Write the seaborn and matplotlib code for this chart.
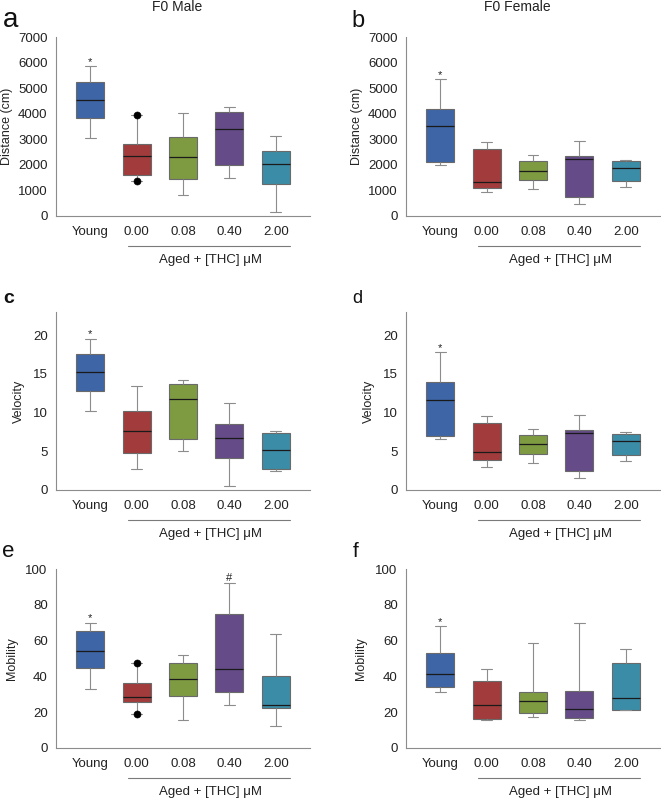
import matplotlib
matplotlib.use("Agg")
import matplotlib.pyplot as plt
import pandas as pd
import seaborn as sns

groups = ["Young", "0.00", "0.08", "0.40", "2.00"]
colors = ["#3e65a6", "#a23c3c", "#7e9b42", "#654b88", "#3b8ca7"]

# per group: [low whisker, Q1, median, Q3, high whisker]
dist_male = [[3064, 3833, 4550, 5254, 5854],
             [1382, 1617, 2360, 2803, 3963],
             [834, 1447, 2321, 3077, 4042],
             [1499, 1995, 3416, 4068, 4263],
             [156, 1239, 2047, 2542, 3142]]
dist_female = [[2008, 2112, 3507, 4198, 5346],
               [926, 1095, 1343, 2608, 2894],
               [1069, 1395, 1773, 2151, 2399],
               [482, 743, 2243, 2360, 2947],
               [1134, 1382, 1890, 2138, 2203]]
vel_male = [[10.17, 12.79, 15.19, 17.51, 19.53],
            [2.75, 4.76, 7.68, 10.26, 13.43],
            [4.98, 6.65, 11.80, 13.73, 14.21],
            [0.56, 4.12, 6.78, 8.54, 11.29],
            [2.45, 2.70, 5.11, 7.42, 7.64]]
vel_female = [[6.65, 7.00, 11.67, 13.95, 17.77],
              [3.00, 3.82, 4.89, 8.63, 9.61],
              [3.52, 4.64, 5.88, 7.08, 7.94],
              [1.59, 2.40, 7.38, 7.77, 9.74],
              [3.69, 4.51, 6.27, 7.30, 7.51]]
mob_male = [[33.0, 44.8, 54.3, 65.4, 70.0],
            [18.9, 25.8, 28.7, 36.3, 47.4],
            [15.4, 29.0, 38.6, 47.6, 52.2],
            [24.0, 31.3, 44.2, 75.1, 91.9],
            [12.2, 22.1, 24.0, 40.3, 63.9]]
mob_female = [[31.4, 34.0, 41.5, 53.1, 67.9],
              [15.7, 16.3, 24.3, 37.6, 44.3],
              [17.4, 19.8, 26.4, 31.4, 58.9],
              [15.9, 16.6, 21.9, 32.1, 70.1],
              [21.1, 21.5, 28.0, 47.5, 55.5]]

sns.set_style("white")
plt.rcParams["font.family"] = ["Liberation Sans", "DejaVu Sans"]

W, H = 661, 799
fig = plt.figure(figsize=(W / 100, H / 100), dpi=100)


def add_ax(left, top, bottom):
    return fig.add_axes([left / W, 1 - bottom / H, 254 / W, (bottom - top) / H])


def panel(ax, boxes, ymax, step, ylabel, ylab_x, marks, dots=False):
    rows = [(g, v) for g, vals in zip(groups, boxes) for v in vals]
    df = pd.DataFrame(rows, columns=["group", "value"])
    sns.boxplot(data=df, x="group", y="value", hue="group", order=groups,
                hue_order=groups, palette=colors, saturation=1, whis=(0, 100),
                width=0.6, linewidth=0.8, linecolor="#6a6a6a", legend=False,
                ax=ax, medianprops=dict(color="#1a1a1a", linewidth=0.9),
                whiskerprops=dict(color="#8c8c8c"), capprops=dict(color="#8c8c8c"),
                capwidths=0.23)
    if dots:
        vals = boxes[1]
        sns.scatterplot(x=[1, 1], y=[vals[0], vals[-1]], color="black", s=26,
                        edgecolor="black", ax=ax, zorder=5, legend=False)
    for i, sym, off in marks:
        ax.annotate(sym, xy=(i, boxes[i][-1]), xytext=(0, off),
                    textcoords="offset points", ha="center", va="baseline",
                    fontsize=8, color="#222222")
    ax.set_xlim(-0.74, 4.74)
    ax.set_ylim(0, ymax)
    ax.set_yticks(range(0, int(ymax) + 1, step) if ymax % step == 0
                  else range(0, int(ymax), step))
    ax.set_xlabel("")
    ax.set_ylabel(ylabel, fontsize=9, color="#222222")
    ax.yaxis.set_label_coords(ylab_x, 0.5)
    for s in ["top", "right"]:
        ax.spines[s].set_visible(False)
    for s in ["left", "bottom"]:
        ax.spines[s].set_color("#8c8c8c")
        ax.spines[s].set_linewidth(0.8)
    ax.tick_params(axis="both", length=3, width=0.8, color="#8c8c8c",
                   labelsize=9.5, labelcolor="#222222")
    ax.tick_params(axis="x", pad=4)
    ax.tick_params(axis="y", pad=3)
    tr = ax.get_xaxis_transform()
    ax.plot([0.82, 4.3], [-0.168, -0.168], color="#7a7a7a", lw=0.8,
            transform=tr, clip_on=False)
    ax.text(2.6, -0.246, "Aged + [THC] μM", transform=tr, ha="center",
            va="center", fontsize=9.5, color="#222222")


ax_a = add_ax(56, 37, 216)
ax_b = add_ax(406, 37, 216)
ax_c = add_ax(56, 312, 490)
ax_d = add_ax(406, 312, 490)
ax_e = add_ax(56, 569, 748)
ax_f = add_ax(406, 569, 748)

panel(ax_a, dist_male, 7000, 1000, "Distance (cm)", -0.168, [(0, "*", 1)], dots=True)
panel(ax_b, dist_female, 7000, 1000, "Distance (cm)", -0.17, [(0, "*", 1)])
panel(ax_c, vel_male, 23, 5, "Velocity", -0.122, [(0, "*", 1)])
panel(ax_d, vel_female, 23, 5, "Velocity", -0.122, [(0, "*", 1)])
panel(ax_e, mob_male, 100, 20, "Mobility", -0.15, [(0, "*", 1), (3, "#", 2)], dots=True)
panel(ax_f, mob_female, 100, 20, "Mobility", -0.154, [(0, "*", 1)])

fig.text(177 / W, 1 - 7 / H, "F0 Male", ha="center", va="center", fontsize=10, color="#222222")
fig.text(517 / W, 1 - 7 / H, "F0 Female", ha="center", va="center", fontsize=10, color="#222222")

for lab, x, y, size, weight in [("a", 3, 27, 20, "normal"), ("b", 351, 27, 17, "normal"),
                                ("c", 3, 303, 14, "bold"), ("d", 352, 303, 13, "normal"),
                                ("e", 2, 557, 16, "normal"), ("f", 353, 557, 15, "normal")]:
    fig.text(x / W, 1 - y / H, lab, ha="left", va="baseline", fontsize=size,
             fontweight=weight, color="#111111")

fig.savefig("out.png", dpi=100)
